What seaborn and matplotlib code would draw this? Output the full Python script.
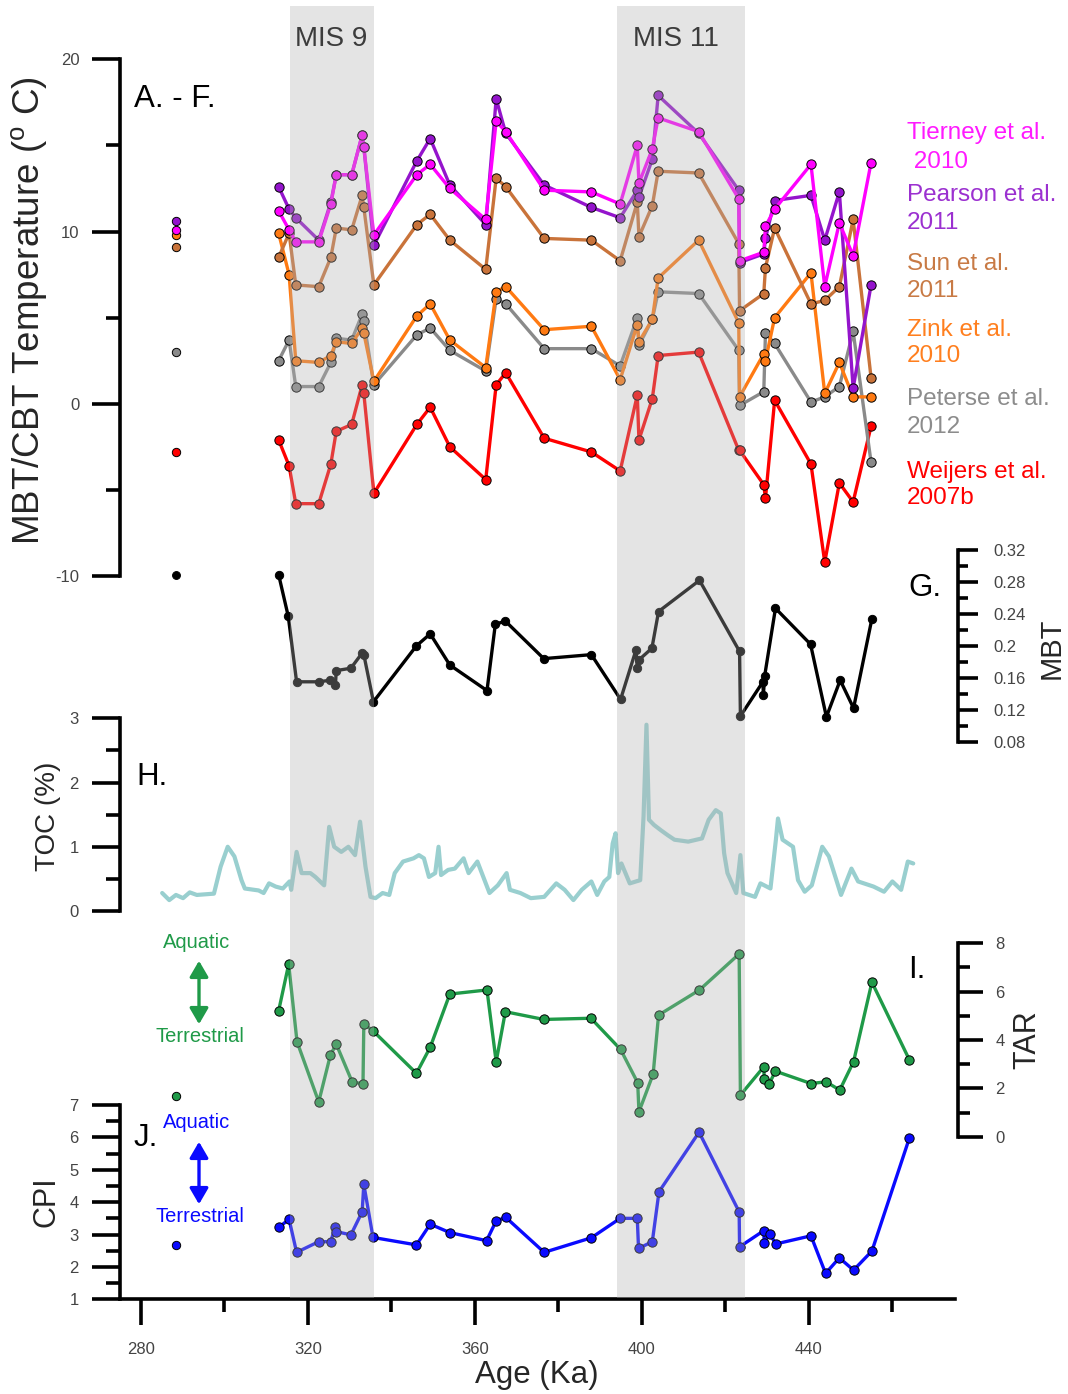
import numpy as np
import pandas as pd
import matplotlib
matplotlib.use('Agg')
import matplotlib.pyplot as plt
import seaborn as sns
from matplotlib.ticker import MultipleLocator, FixedLocator, FuncFormatter
from matplotlib.patches import FancyArrowPatch

# ---------------- data ----------------
MODERN_AGE = 288.3
MIS_NAMES = ["MIS 9", "MIS 11"]
MIS_START = [315.8, 394.1]
MIS_END = [335.9, 424.8]

AGES_T = [313.0, 315.5, 317.1, 322.6, 325.5, 326.8, 330.5, 333.0, 333.4, 335.8,
          346.1, 349.3, 354.0, 362.6, 365.1, 367.4, 376.6, 387.9, 394.8, 398.9,
          399.3, 402.5, 403.9, 413.6, 423.2, 423.4, 429.2, 429.6, 431.8, 440.5,
          443.8, 447.3, 450.6, 454.9]
TIERNEY = [11.2, 10.1, 9.4, 9.4, 11.6, 13.3, 13.3, 15.6, 14.9, 9.8,
           13.3, 13.9, 12.5, 10.7, 16.4, 15.8, 12.4, 12.3, 11.6, 15.0,
           12.8, 14.8, 16.6, 15.8, 11.9, 8.3, 8.8, 10.3, 11.3, 13.9,
           6.8, 10.5, 8.6, 14.0]
PEARSON = [12.6, 11.3, 10.8, 9.5, 11.7, 13.3, 13.3, 15.6, 14.9, 9.2,
           14.1, 15.4, 12.7, 10.4, 17.7, 15.7, 12.7, 11.4, 10.8, 12.4,
           12.0, 14.2, 17.9, 15.7, 12.4, 8.2, 8.7, 9.6, 11.8, 12.1,
           9.5, 12.3, 0.9, 6.9]
SUN = [8.5, 9.9, 6.9, 6.8, 8.5, 10.2, 10.1, 12.1, 11.4, 6.9,
       10.4, 11.0, 9.5, 7.8, 13.1, 12.6, 9.6, 9.5, 8.3, 11.7,
       9.7, 11.5, 13.5, 13.4, 9.3, 5.4, 6.4, 7.9, 10.2, 5.8,
       6.0, 6.8, 10.7, 1.5]
ZINK = [9.9, 7.5, 2.5, 2.4, 2.8, 3.6, 3.5, 4.4, 4.1, 1.3,
        5.1, 5.8, 3.7, 2.1, 6.5, 6.8, 4.3, 4.5, 1.4, 4.6,
        3.6, 4.9, 7.3, 9.5, 4.7, 0.4, 2.9, 2.5, 5.0, 7.6,
        0.6, 2.4, 0.4, 0.4]
PETERSE = [2.5, 3.7, 1.0, 1.0, 2.4, 3.8, 3.7, 5.2, 4.8, 1.1,
           4.0, 4.4, 3.1, 1.9, 6.1, 5.8, 3.2, 3.2, 2.2, 5.0,
           3.4, 4.9, 6.5, 6.4, 3.1, -0.1, 0.7, 4.1, 3.5, 0.1,
           0.4, 1.0, 4.2, -3.4]
WEIJERS = [-2.1, -3.6, -5.8, -5.8, -3.5, -1.6, -1.2, 1.1, 0.6, -5.2,
           -1.2, -0.2, -2.5, -4.4, 1.1, 1.8, -2.0, -2.8, -3.9, 0.5,
           -2.1, 0.3, 2.8, 3.0, -2.7, -2.7, -4.7, -5.5, 0.2, -3.5,
           -9.2, -4.6, -5.7, -1.3]
MODERN_T = {"Pearson": 10.6, "Tierney": 10.1, "Zink": 9.8, "Sun": 9.1,
            "Peterse": 3.0, "Weijers": -2.8}

MBT_AGES = [313.0, 315.3, 317.3, 322.6, 325.4, 326.6, 326.8, 330.3, 333.0, 333.4,
            335.7, 346.0, 349.3, 354.0, 362.9, 364.9, 367.3, 376.5, 387.9, 394.9,
            398.6, 398.9, 399.2, 402.4, 404.0, 413.8, 423.4, 423.6, 429.0, 429.1,
            429.4, 432.0, 440.4, 444.2, 447.5, 450.7, 455.1]
MBT_VALS = [0.289, 0.237, 0.155, 0.155, 0.157, 0.151, 0.169, 0.172, 0.191, 0.189,
            0.130, 0.200, 0.215, 0.176, 0.144, 0.227, 0.231, 0.184, 0.189, 0.133,
            0.195, 0.172, 0.182, 0.197, 0.243, 0.282, 0.193, 0.112, 0.155, 0.138,
            0.162, 0.247, 0.202, 0.111, 0.157, 0.122, 0.234]
MODERN_MBT = 0.289

TOC_AGES = [285.1, 286.8, 288.4, 290.1, 291.7, 293.4, 297.5, 299.1, 300.8, 302.4,
            304.1, 304.9, 308.2, 309.4, 310.7, 312.3, 314.0, 315.6, 316.0, 317.3,
            318.5, 320.6, 321.8, 323.9, 325.1, 326.3, 328.0, 329.7, 331.3, 332.5,
            333.8, 335.0, 336.2, 337.9, 339.5, 340.8, 342.8, 345.3, 346.6, 347.8,
            349.0, 350.5, 351.3, 351.9, 353.6, 355.2, 357.3, 358.5, 360.6, 363.5,
            365.5, 367.6, 368.4, 370.9, 373.4, 376.6, 379.5, 381.5, 383.6, 385.6,
            387.9, 389.3, 391.0, 392.2, 393.0, 393.7, 394.3, 395.1, 397.1, 399.6,
            400.4, 401.1, 401.7, 402.9, 404.5, 406.2, 407.8, 411.1, 414.4, 416.0,
            417.7, 418.9, 419.7, 420.5, 422.6, 423.6, 424.3, 427.1, 428.4, 430.8,
            432.1, 432.6, 433.7, 436.2, 437.4, 439.0, 440.7, 443.2, 444.8, 447.7,
            450.2, 451.8, 455.5, 458.0, 460.0, 462.1, 463.7, 465.0]
TOC_VALS = [0.28, 0.17, 0.25, 0.20, 0.29, 0.25, 0.27, 0.69, 1.00, 0.85,
            0.48, 0.35, 0.32, 0.28, 0.43, 0.38, 0.35, 0.46, 0.33, 0.92,
            0.59, 0.59, 0.53, 0.40, 1.31, 1.00, 0.92, 1.00, 0.87, 1.39,
            0.69, 0.22, 0.20, 0.28, 0.25, 0.59, 0.77, 0.82, 0.87, 0.82,
            0.53, 0.59, 1.00, 0.56, 0.64, 0.66, 0.82, 0.59, 0.77, 0.28,
            0.40, 0.59, 0.33, 0.28, 0.20, 0.22, 0.43, 0.33, 0.17, 0.33,
            0.46, 0.25, 0.46, 0.53, 1.05, 1.21, 0.59, 0.74, 0.43, 0.48,
            1.47, 2.90, 1.42, 1.34, 1.26, 1.18, 1.11, 1.08, 1.13, 1.42,
            1.57, 1.52, 0.90, 0.59, 0.28, 0.87, 0.28, 0.22, 0.43, 0.35,
            1.11, 1.44, 1.11, 1.00, 0.48, 0.30, 0.40, 1.00, 0.85, 0.25,
            0.66, 0.46, 0.38, 0.30, 0.46, 0.33, 0.77, 0.74]

TAR_AGES = [313.0, 315.4, 317.4, 322.6, 325.4, 326.8, 330.6, 333.2, 333.4, 335.6,
            346.0, 349.3, 354.0, 362.9, 365.1, 367.3, 376.5, 387.8, 394.9, 399.0,
            399.3, 402.7, 404.0, 413.8, 423.3, 423.6, 429.2, 429.3, 430.4, 432.0,
            440.5, 444.1, 447.4, 450.7, 455.1, 464.1]
TAR_VALS = [5.21, 7.13, 3.93, 1.44, 3.38, 3.83, 2.27, 2.18, 4.66, 4.38,
            2.62, 3.70, 5.90, 6.07, 3.10, 5.17, 4.85, 4.90, 3.61, 2.23,
            1.03, 2.59, 5.03, 6.07, 7.56, 1.72, 2.89, 2.37, 2.16, 2.71,
            2.20, 2.27, 1.93, 3.10, 6.39, 3.17]
MODERN_TAR = 1.68

CPI_AGES = [313.0, 315.5, 317.3, 322.6, 325.5, 326.5, 326.8, 330.3, 333.0, 333.4,
            335.6, 346.0, 349.3, 354.0, 362.8, 365.1, 367.4, 376.6, 387.9, 394.8,
            398.9, 399.2, 402.5, 404.1, 413.7, 423.3, 423.4, 429.2, 429.3, 430.6,
            432.1, 440.5, 444.0, 447.3, 450.7, 455.1, 464.1]
CPI_VALS = [3.22, 3.47, 2.45, 2.78, 2.78, 3.24, 3.09, 2.99, 3.70, 4.55,
            2.91, 2.68, 3.32, 3.06, 2.81, 3.42, 3.53, 2.45, 2.90, 3.50,
            3.50, 2.57, 2.78, 4.32, 6.16, 3.70, 2.62, 3.12, 2.75, 3.02,
            2.71, 2.96, 1.80, 2.28, 1.90, 2.49, 5.99]
MODERN_CPI = 2.68

X_MAJOR = [280, 320, 360, 400, 440]
X_MINOR = [300, 340, 380, 420, 460]

LEGEND_LINES = [("Tierney et al.", " 2010"), ("Pearson et al.", "2011"),
                ("Sun et al.", "2011"), ("Zink et al.", "2010"),
                ("Peterse et al.", "2012"), ("Weijers et al.", "2007b")]

# ---------------- style ----------------
sns.set_theme(style='white')
plt.rcParams['font.family'] = ['Liberation Sans', 'DejaVu Sans']
plt.rcParams['mathtext.fontset'] = 'custom'
plt.rcParams['mathtext.rm'] = 'Liberation Sans'
plt.rcParams['mathtext.it'] = 'Liberation Sans:italic'
plt.rcParams['axes.unicode_minus'] = False

C_TIER = '#ff00ff'
C_PEAR = '#9414cc'
C_SUN = '#c9733a'
C_ZINK = '#ff7a12'
C_PETE = '#8a8a8a'
C_WEIJ = '#ff0000'
C_TOC = '#99cfcf'
C_TAR = '#1f9a48'
C_CPI = '#0a0aff'
TXT = '#444444'

W, H = 1068, 1394
fig = plt.figure(figsize=(W / 100, H / 100), dpi=100)
X0, X1 = 120, 955
XLIM = (275, 475)
SPW = 2.6


def fx(px):
    return px / W


def fy(py):
    return 1 - py / H


def add_panel(top, bottom):
    ax = fig.add_axes([X0 / W, 1 - bottom / H, (X1 - X0) / W, (bottom - top) / H])
    ax.set_facecolor('none')
    ax.set_xlim(*XLIM)
    for s in ax.spines.values():
        s.set_visible(False)
    ax.set_xticks([])
    ax.grid(False)
    return ax


def style_y(ax, ylim, major, minor, side='left', maj_len=28, min_len=14, pad=9, fmt=None):
    ax.set_ylim(*ylim)
    sp = ax.spines[side]
    sp.set_visible(True)
    sp.set_linewidth(SPW)
    sp.set_color('black')
    ax.yaxis.set_major_locator(FixedLocator(major))
    ax.yaxis.set_minor_locator(FixedLocator(minor))
    if fmt is not None:
        ax.yaxis.set_major_formatter(FuncFormatter(fmt))
    if side == 'right':
        sp.set_position(('outward', 2.5))
        ax.yaxis.tick_right()
    on_left = side == 'left'
    ax.tick_params(axis='y', which='major', left=on_left, right=not on_left,
                   labelleft=on_left, labelright=not on_left,
                   length=maj_len * 0.72, width=SPW, color='black', direction='out',
                   pad=pad, labelsize=12, labelcolor=TXT)
    ax.tick_params(axis='y', which='minor', left=on_left, right=not on_left,
                   length=min_len * 0.72, width=SPW, color='black', direction='out')


def line(ax, ages, vals, color, ms=6.7, lw=2.4, z=3, edge='black'):
    sns.lineplot(x=np.asarray(ages), y=np.asarray(vals), ax=ax, color=color, linewidth=lw,
                 marker='o', markersize=ms, markeredgecolor=edge, markeredgewidth=0.7,
                 estimator=None, sort=False, legend=False, zorder=z, clip_on=False)


def dot(ax, val, color, s=40):
    sns.scatterplot(x=[MODERN_AGE], y=[val], ax=ax, color=color, s=s, edgecolor='black',
                    linewidth=0.7, legend=False, zorder=4, clip_on=False)


# ---------------- panel A-F temperature ----------------
axT = add_panel(59.3, 576)
style_y(axT, (-10, 20), [-10, 0, 10, 20], [-5, 5, 15], 'left', 28, 14, 9)
for vals, col in [(WEIJERS, C_WEIJ), (PETERSE, C_PETE), (ZINK, C_ZINK), (SUN, C_SUN),
                  (PEARSON, C_PEAR), (TIERNEY, C_TIER)]:
    line(axT, AGES_T, vals, col)
for key, col in [('Sun', C_SUN), ('Zink', C_ZINK), ('Tierney', C_TIER), ('Pearson', C_PEAR),
                 ('Peterse', C_PETE), ('Weijers', C_WEIJ)]:
    dot(axT, MODERN_T[key], col, s=36)

# ---------------- panel G MBT ----------------
axG = add_panel(550, 741.7)
mbt_major = [0.08, 0.12, 0.16, 0.20, 0.24, 0.28, 0.32]
mbt_minor = [0.10, 0.14, 0.18, 0.22, 0.26, 0.30]
style_y(axG, (0.08, 0.32), mbt_major, mbt_minor, 'right', 20, 10, 10.5,
        fmt=lambda v, p: f"{v:g}")
line(axG, MBT_AGES, MBT_VALS, 'black', ms=6, lw=2.4, edge='black')
dot(axG, MODERN_MBT, 'black', s=32)

# ---------------- panel H TOC ----------------
axH = add_panel(718.3, 911)
style_y(axH, (0, 3), [0, 1, 2, 3], [0.5, 1.5, 2.5], 'left', 28, 14, 9.5)
sns.lineplot(x=np.asarray(TOC_AGES), y=np.asarray(TOC_VALS), ax=axH, color=C_TOC,
             linewidth=3.0, estimator=None, sort=False, legend=False, zorder=3)

# ---------------- panel I TAR ----------------
axI = add_panel(943.3, 1136.7)
style_y(axI, (0, 8), [0, 2, 4, 6, 8], [1, 3, 5, 7], 'right', 25, 12, 8.4)
line(axI, TAR_AGES, TAR_VALS, C_TAR)
dot(axI, MODERN_TAR, C_TAR, s=36)

# ---------------- panel J CPI ----------------
axJ = add_panel(1105, 1299.3)
style_y(axJ, (1, 7), [1, 2, 3, 4, 5, 6, 7], [1.5, 2.5, 3.5, 4.5, 5.5, 6.5], 'left', 28, 14, 9.5)
line(axJ, CPI_AGES, CPI_VALS, C_CPI)
dot(axJ, MODERN_CPI, C_CPI, s=36)
axJ.spines['bottom'].set_visible(True)
axJ.spines['bottom'].set_linewidth(SPW)
axJ.spines['bottom'].set_color('black')
axJ.xaxis.set_major_locator(FixedLocator(X_MAJOR))
axJ.xaxis.set_minor_locator(FixedLocator(X_MINOR))
axJ.set_xlim(*XLIM)
axJ.tick_params(axis='x', which='major', bottom=True, labelbottom=True, length=25.7 * 0.72,
                width=SPW, color='black', direction='out', pad=12, labelsize=12, labelcolor=TXT)
axJ.tick_params(axis='x', which='minor', bottom=True, length=13.3 * 0.72, width=SPW,
                color='black', direction='out')

# ---------------- MIS shading overlay ----------------
ov = fig.add_axes([X0 / W, 1 - 1297.5 / H, (X1 - X0) / W, (1297.5 - 6) / H])
ov.set_xlim(*XLIM)
ov.set_ylim(0, 1)
ov.axis('off')
for a, b in zip(MIS_START, MIS_END):
    ov.axvspan(a, b, color='#b0b0b0', alpha=0.34, lw=0)
fig.text(fx(331.5), fy(39), MIS_NAMES[0], ha='center', va='center', fontsize=20, color='#3c3c3c')
fig.text(fx(676), fy(39), MIS_NAMES[1], ha='center', va='center', fontsize=20, color='#3c3c3c')

# ---------------- legend texts ----------------
leg_cols = ['#ff1aff', '#9b30d0', '#c87a45', '#ff7f1e', '#8c8c8c', '#ff0000']
leg_y = [(133, 162), (195, 223), (264, 291), (330, 356), (399, 427), (472, 498)]
for (l1, l2), col, (y1, y2) in zip(LEGEND_LINES, leg_cols, leg_y):
    fig.text(fx(907), fy(y1), l1, color=col, fontsize=17.5, ha='left', va='center')
    fig.text(fx(907), fy(y2), l2, color=col, fontsize=17.5, ha='left', va='center')

# ---------------- panel letters ----------------
for txt, x, y in [("A. - F.", 134, 99), ("G.", 908, 588), ("H.", 136, 777),
                  ("I.", 908, 970), ("J.", 134, 1138)]:
    fig.text(fx(x), fy(y), txt, fontsize=22.5, ha='left', va='center', color='black')

# ---------------- axis labels ----------------
fig.text(fx(29), fy(311), r"MBT/CBT Temperature ($^{\mathrm{o}}$ C)", rotation=90,
         ha='center', va='center', fontsize=26.5)
fig.text(fx(48), fy(816), "TOC (%)", rotation=90, ha='center', va='center', fontsize=20)
fig.text(fx(46), fy(1202), "CPI", rotation=90, ha='center', va='center', fontsize=22)
fig.text(fx(1052), fy(648), "MBT", rotation=90, ha='center', va='center', fontsize=21)
fig.text(fx(1027), fy(1040), "TAR", rotation=90, ha='center', va='center', fontsize=22)
fig.text(fx(537), fy(1375), "Age (Ka)", ha='center', va='center', fontsize=22.5)

# ---------------- aquatic / terrestrial arrows ----------------
for col, ya, yt, y0, y1 in [(C_TAR, 943, 1037, 958, 1027), (C_CPI, 1122, 1217, 1139, 1207)]:
    fig.text(fx(197), fy(ya), "Aquatic", color=col, fontsize=14.5, ha='center', va='center')
    fig.text(fx(200), fy(yt), "Terrestrial", color=col, fontsize=14.5, ha='center', va='center')
    arr = FancyArrowPatch((fx(199), fy(y0)), (fx(199), fy(y1)), transform=fig.transFigure,
                          arrowstyle='<|-|>,head_length=0.6,head_width=0.35',
                          mutation_scale=16, lw=2.4, color=col)
    fig.add_artist(arr)

fig.savefig('out.png', dpi=100)
